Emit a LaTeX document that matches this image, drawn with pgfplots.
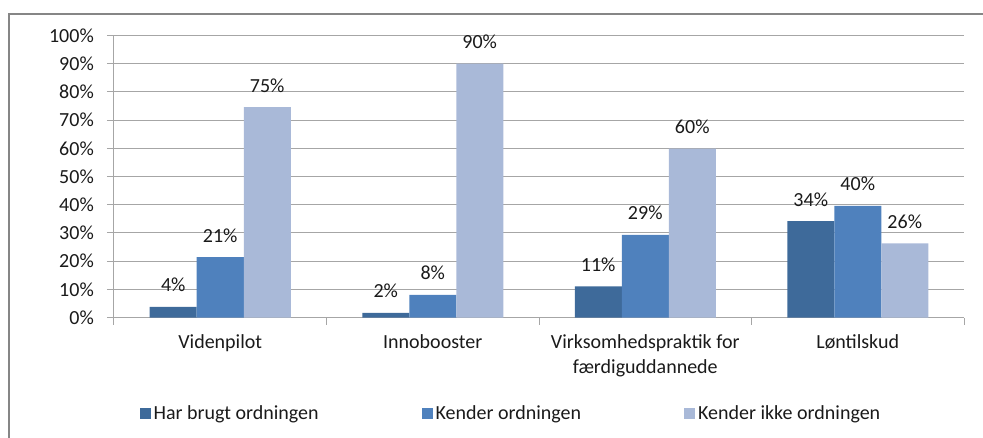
\documentclass[border=0pt]{standalone}
\usepackage{pgfplots}
\pgfplotsset{compat=1.18}
\usepackage{fontspec}
\setmainfont{Carlito}
\definecolor{cdark}{RGB}{62,106,154}
\definecolor{cmid}{RGB}{79,129,189}
\definecolor{clight}{RGB}{169,185,216}
\definecolor{cgrid}{RGB}{166,166,166}
\definecolor{cframe}{RGB}{134,134,134}
\definecolor{ctext}{RGB}{26,26,26}
\begin{document}
\begin{tikzpicture}[font=\fontsize{20bp}{25bp}\selectfont, text=ctext]
\begin{axis}[
  at={(0,0)}, anchor=south west,
  scale only axis, width=850bp, height=282bp,
  /pgf/number format/assume math mode=true,
  ybar=0pt, bar width=47bp,
  xmin=-0.5, xmax=3.5, ymin=0, ymax=100,
  ytick={0,10,...,100},
  yticklabel={\pgfmathprintnumber{\tick}\%},
  yticklabel style={inner sep=0pt, xshift=-13bp},
  xtick={-0.5,0.5,1.5,2.5,3.5}, xticklabels={},
  extra x ticks={0,1,2,3},
  extra x tick labels={Videnpilot, Innobooster, {Virksomhedspraktik for\\færdiguddannede}, Løntilskud},
  extra x tick style={major tick length=0pt, grid=none},
  xticklabel style={align=center, inner sep=0pt, yshift=-17bp},
  tick align=outside, major tick length=7bp,
  tick style={cgrid, line width=1bp},
  ymajorgrids, grid style={cgrid, line width=1bp},
  axis x line*=bottom, axis y line*=left,
  axis line style={cgrid, line width=1bp},
  nodes near coords={\pgfmathprintnumber[fixed,precision=0]{\pgfplotspointmeta}\%},
  every node near coord/.append style={anchor=base, inner sep=0pt, yshift=15bp, text=ctext},
  legend columns=3,
  legend style={at={(0.4676,-0.3387)}, anchor=center, draw=none, fill=none,
    nodes={inner sep=3bp},
    /tikz/every even column/.append style={column sep=100bp}},
  legend image code/.code={\fill[#1] (0bp,-5.5bp) rectangle (11bp,5.5bp);},
]
\addplot[fill=cdark, draw=none] coordinates {(0,3.8) (1,1.6) (2,11.0) (3,34.2)};
\addlegendentry{Har brugt ordningen}
\addplot[fill=cmid, draw=none] coordinates {(0,21.4) (1,8.0) (2,29.3) (3,39.6)};
\addlegendentry{Kender ordningen}
\addplot[fill=clight, draw=none] coordinates {(0,74.6) (1,90.0) (2,59.9) (3,26.3)};
\addlegendentry{Kender ikke ordningen}
\end{axis}
\draw[cframe, line width=1.5bp] (-105bp,-300bp) rectangle (1100bp,303.5bp);
\pgfresetboundingbox
\useasboundingbox (-114bp,-120.5bp) rectangle (869bp,317.5bp);
\end{tikzpicture}
\end{document}
